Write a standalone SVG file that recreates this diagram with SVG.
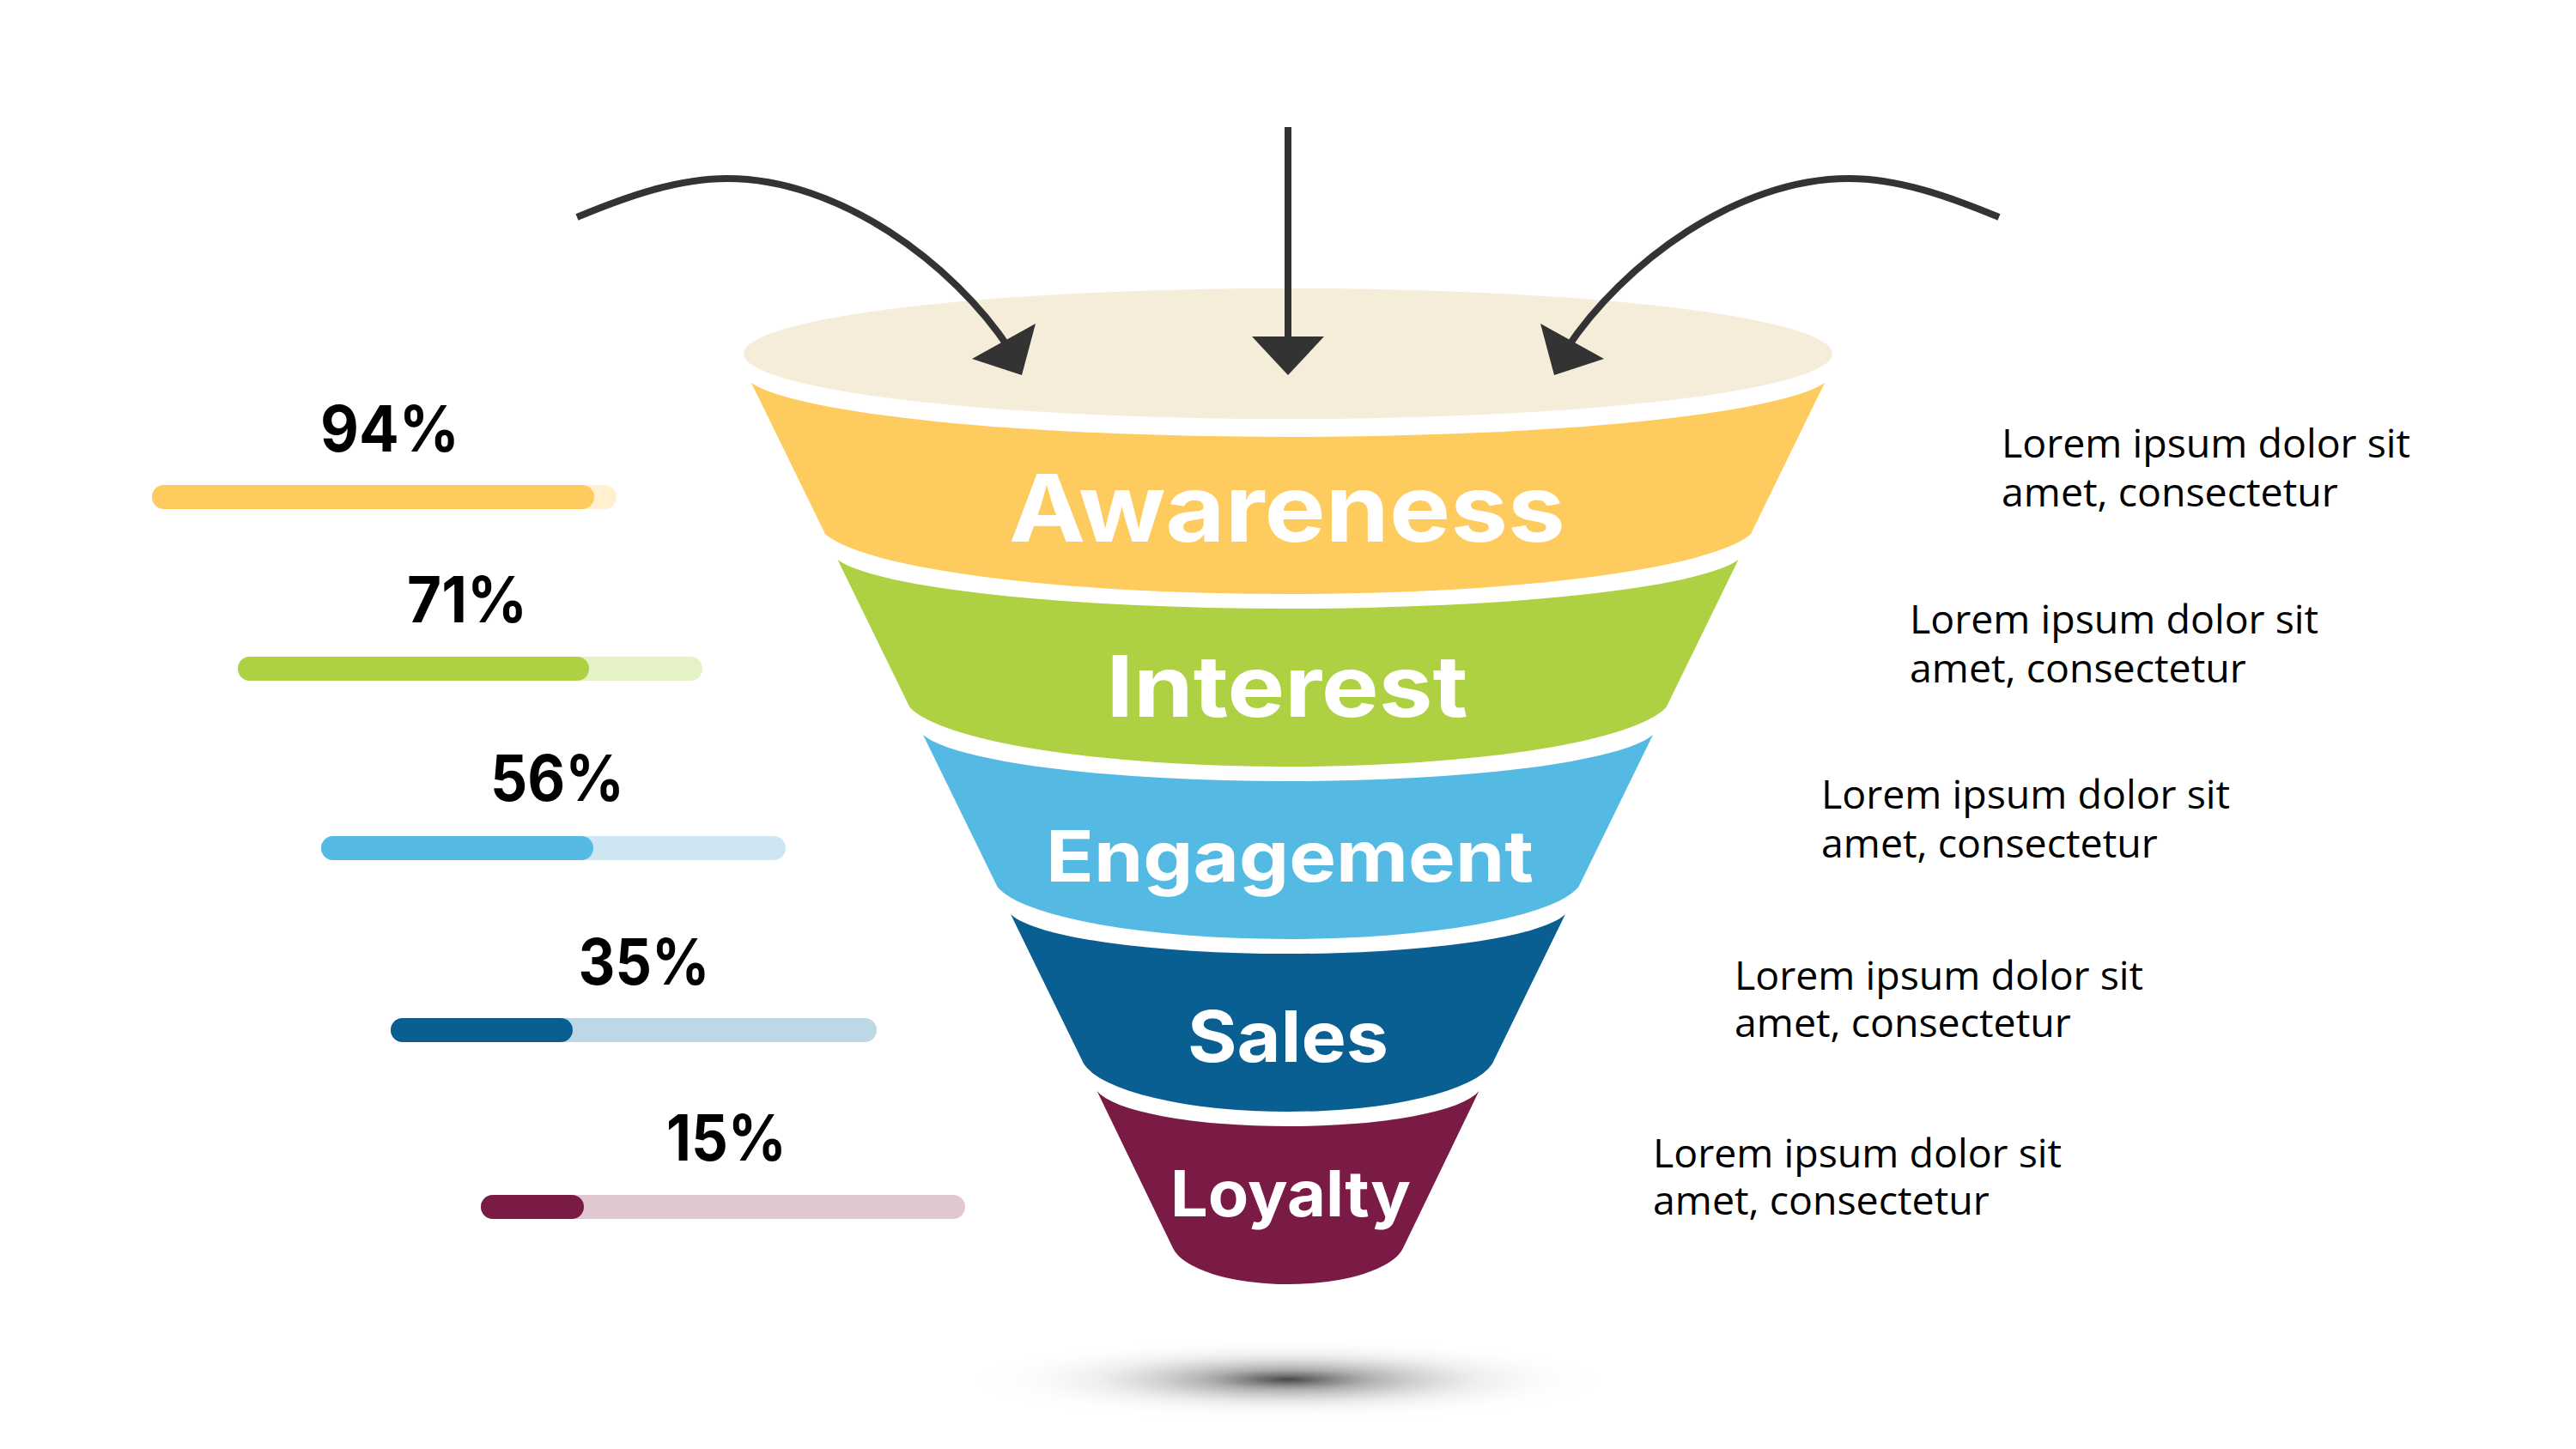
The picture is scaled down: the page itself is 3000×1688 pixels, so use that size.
<svg xmlns="http://www.w3.org/2000/svg" width="3000" height="1688" viewBox="0 0 3000 1688">
  <defs>
    <radialGradient id="shadowGrad" cx="0.5" cy="0.5" r="0.5">
      <stop offset="0" stop-color="#3c3c3c" stop-opacity="0.95"/>
      <stop offset="0.25" stop-color="#7a7a7a" stop-opacity="0.6"/>
      <stop offset="0.6" stop-color="#bdbdbd" stop-opacity="0.25"/>
      <stop offset="1" stop-color="#ffffff" stop-opacity="0"/>
    </radialGradient>
  </defs>
  <style>
    .label { font-family: Inter, "Noto Sans", "DejaVu Sans", sans-serif; font-weight: 700; fill: #ffffff; }
    .pct { font-family: Inter, "Noto Sans", "DejaVu Sans", sans-serif; font-weight: 700; fill: #000000; font-size: 74px; }
    .desc { font-family: "Open Sans", "Noto Sans", "DejaVu Sans", sans-serif; font-weight: 400; fill: #000000; font-size: 46.5px; }
    .conn { fill: none; stroke: #333333; stroke-width: 8; }
    .head { fill: #333333; }
  </style>
  <rect x="0" y="0" width="3000" height="1688" fill="#ffffff"/>

  <!-- shadow -->
  <ellipse cx="1500" cy="1607" rx="370" ry="48" fill="url(#shadowGrad)"/>

  <!-- funnel top opening -->
  <g id="funnel-top">
    <ellipse cx="1500" cy="412" rx="634" ry="76" fill="#F5EDDA"/>
  </g>

  <g id="node-awareness">
    <path d="M875,446 A634.4,76 0 0 0 2125,446 L2039,622 A547.1,84.5 0 0 1 961,622 Z" fill="#FECB5E"/>
    <text class="label" x="1499" y="631" font-size="109" text-anchor="middle" textLength="648" lengthAdjust="spacingAndGlyphs">Awareness</text>
  </g>
  <g id="node-interest">
    <path d="M975.5,652 A532.4,68.8 0 0 0 2024.5,652 L1940.5,824 A447.1,83.3 0 0 1 1059.5,824 Z" fill="#ADD143"/>
    <text class="label" x="1499" y="835" font-size="99" text-anchor="middle" textLength="421" lengthAdjust="spacingAndGlyphs">Interest</text>
  </g>
  <g id="node-engagement">
    <path d="M1075,856 A431.4,65.2 0 0 0 1925,856 L1838.5,1033 A343.6,73.6 0 0 1 1161.5,1033 Z" fill="#55BAE3"/>
    <text class="label" x="1502" y="1027" font-size="82" text-anchor="middle" textLength="568" lengthAdjust="spacingAndGlyphs">Engagement</text>
  </g>
  <g id="node-sales">
    <path d="M1177,1065 A327.8,55.5 0 0 0 1823,1065 L1738,1239 A241.6,67.6 0 0 1 1262,1239 Z" fill="#0A5F92"/>
    <text class="label" x="1500" y="1237" font-size="82" text-anchor="middle" textLength="234" lengthAdjust="spacingAndGlyphs">Sales</text>
  </g>
  <g id="node-loyalty">
    <path d="M1277.6,1271 A225.7,49.5 0 0 0 1722.4,1271 L1634,1454 A136,50.7 0 0 1 1366,1454 Z" fill="#7A1B45"/>
    <text class="label" x="1503" y="1417" font-size="74" text-anchor="middle" textLength="280" lengthAdjust="spacingAndGlyphs">Loyalty</text>
  </g>

  <!-- connectors -->
  <g id="connectors">
    <g id="arrow-left">
      <path class="conn" d="M672,253 C732,228 790,208 847,208 C977,208 1110,306.8 1176,407"/>
      <polygon class="head" points="1206,377 1132,418 1190,437"/>
    </g>
    <g id="arrow-center">
      <line class="conn" x1="1500" y1="148" x2="1500" y2="400"/>
      <polygon class="head" points="1458,392 1542,392 1500,437"/>
    </g>
    <g id="arrow-right" transform="translate(3000,0) scale(-1,1)">
      <path class="conn" d="M672,253 C732,228 790,208 847,208 C977,208 1110,306.8 1176,407"/>
      <polygon class="head" points="1206,377 1132,418 1190,437"/>
    </g>
  </g>

  <!-- percentage bars -->
  <g id="stat-94">
    <text class="pct" x="454" y="526" text-anchor="middle" textLength="162" lengthAdjust="spacingAndGlyphs">94%</text>
    <rect x="177" y="565" width="541" height="28" rx="14" fill="#FFF0CF"/>
    <rect x="177" y="565" width="515" height="28" rx="14" fill="#FECB5E"/>
  </g>
  <g id="stat-71">
    <text class="pct" x="544" y="725" text-anchor="middle" textLength="140" lengthAdjust="spacingAndGlyphs">71%</text>
    <rect x="277" y="765" width="541" height="28" rx="14" fill="#E4F2C6"/>
    <rect x="277" y="765" width="409" height="28" rx="14" fill="#ADD143"/>
  </g>
  <g id="stat-56">
    <text class="pct" x="649" y="933" text-anchor="middle" textLength="156" lengthAdjust="spacingAndGlyphs">56%</text>
    <rect x="374" y="974" width="541" height="28" rx="14" fill="#CDE6F2"/>
    <rect x="374" y="974" width="317" height="28" rx="14" fill="#55BAE3"/>
  </g>
  <g id="stat-35">
    <text class="pct" x="750" y="1147" text-anchor="middle" textLength="153" lengthAdjust="spacingAndGlyphs">35%</text>
    <rect x="455" y="1186" width="566" height="28" rx="14" fill="#BED7E6"/>
    <rect x="455" y="1186" width="212" height="28" rx="14" fill="#0A5F92"/>
  </g>
  <g id="stat-15">
    <text class="pct" x="846" y="1352" text-anchor="middle" textLength="140" lengthAdjust="spacingAndGlyphs">15%</text>
    <rect x="560" y="1392" width="564" height="28" rx="14" fill="#DFC8D2"/>
    <rect x="560" y="1392" width="120" height="28" rx="14" fill="#7A1B45"/>
  </g>

  <!-- descriptions -->
  <g id="desc-1">
    <text class="desc" x="2331" y="533"><tspan x="2331" y="533">Lorem ipsum dolor sit</tspan><tspan x="2331" y="590">amet, consectetur</tspan></text>
  </g>
  <g id="desc-2">
    <text class="desc" x="2224" y="738"><tspan x="2224" y="738">Lorem ipsum dolor sit</tspan><tspan x="2224" y="795">amet, consectetur</tspan></text>
  </g>
  <g id="desc-3">
    <text class="desc" x="2121" y="942"><tspan x="2121" y="942">Lorem ipsum dolor sit</tspan><tspan x="2121" y="999">amet, consectetur</tspan></text>
  </g>
  <g id="desc-4">
    <text class="desc" x="2020" y="1153"><tspan x="2020" y="1153">Lorem ipsum dolor sit</tspan><tspan x="2020" y="1208">amet, consectetur</tspan></text>
  </g>
  <g id="desc-5">
    <text class="desc" x="1925" y="1360"><tspan x="1925" y="1360">Lorem ipsum dolor sit</tspan><tspan x="1925" y="1415">amet, consectetur</tspan></text>
  </g>
</svg>
